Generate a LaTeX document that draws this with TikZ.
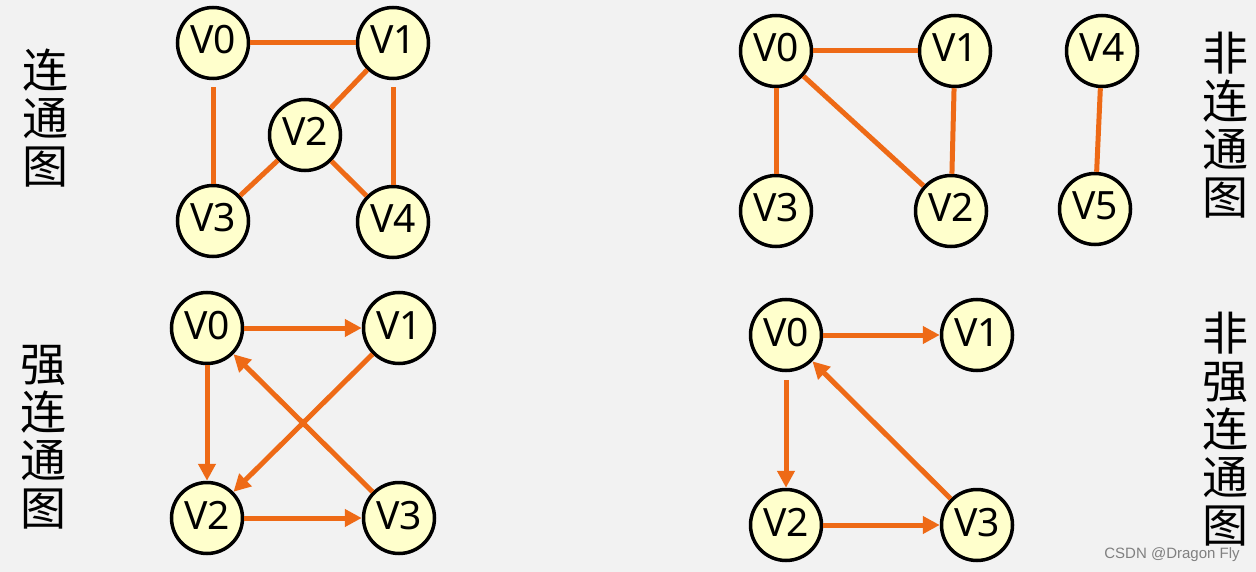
\documentclass[tikz,border=0pt]{standalone}
\usepackage{fontspec}
\setmainfont{Noto Sans}
\newfontfamily\cjk{Noto Sans CJK SC}
\newfontfamily\markfont{Liberation Sans}
\usetikzlibrary{arrows.meta, positioning}
\definecolor{edgeOrange}{RGB}{238,106,22}
\definecolor{vertexFill}{RGB}{255,255,204}
\definecolor{pageGray}{RGB}{242,242,242}

\begin{document}
\begin{tikzpicture}[
  x=1pt, y=-1pt,
  vertex/.style={
    circle, draw=black, line width=3.5pt, fill=vertexFill,
    minimum size=71pt, inner sep=0pt,
    font=\fontsize{39}{39}\selectfont, text height=28pt, text depth=6pt
  },
  edge/.style={draw=edgeOrange, line width=5pt},
  arc/.style={edge, -{Triangle[length=17pt, width=17pt]}},
  vlabel/.style={font=\cjk\fontsize{46}{48}\selectfont, align=center, inner sep=0pt},
  on grid
]
\fill[pageGray] (0,0) rectangle (1256,572);

% connected graph
\node[vertex] (c0) at (213,43) {V0};
\node[vertex, right=180pt of c0] (c1) {V1};
\node[vertex, below right=92pt and 92pt of c0] (c2) {V2};
\node[vertex, below=178pt of c0] (c3) {V3};
\node[vertex, below=179pt of c1] (c4) {V4};

\draw[edge] (c0) -- (c1);
\draw[edge, shorten <=7pt] (c0) -- (c3);
\draw[edge, shorten <=7pt] (c1) -- (c4);
\draw[edge] (c1) -- (c2);
\draw[edge] (c2) -- (c3);
\draw[edge] (c2) -- (c4);

% disconnected graph
\node[vertex] (d0) at (776,51) {V0};
\node[vertex, right=179pt of d0] (d1) {V1};
\node[vertex, below right=160pt and 175pt of d0] (d2) {V2};
\node[vertex, below=160pt of d0] (d3) {V3};
\node[vertex, right=326pt of d0] (d4) {V4};
\node[vertex, below left=158pt and 7pt of d4] (d5) {V5};

\draw[edge] (d0) -- (d1);
\draw[edge] (d0) -- (d3);
\draw[edge] (d0) -- (d2);
\draw[edge] (d1) -- (d2);
\draw[edge] (d4) -- (d5);

% strongly connected graph
\node[vertex] (s0) at (207,328) {V0};
\node[vertex, right=192pt of s0] (s1) {V1};
\node[vertex, below=190pt of s0] (s2) {V2};
\node[vertex, below right=190pt and 192pt of s0] (s3) {V3};

\draw[arc] (s0) -- (s1);
\draw[arc] (s0) -- (s2);
\draw[arc] (s1) -- (s2);
\draw[arc] (s3) -- (s0);
\draw[arc] (s2) -- (s3);

% not strongly connected graph
\node[vertex] (n0) at (786,335) {V0};
\node[vertex, right=191pt of n0] (n1) {V1};
\node[vertex, below=190pt of n0] (n2) {V2};
\node[vertex, below right=190pt and 191pt of n0] (n3) {V3};

\draw[arc] (n0) -- (n1);
\draw[arc, shorten <=8pt] (n0) -- (n2);
\draw[arc] (n3) -- (n0);
\draw[arc] (n2) -- (n3);

% vertical labels
\node[vlabel] (lconn) at (45,118) {连\\通\\图};
\node[vlabel] (lstrong) at (43,437) {强\\连\\通\\图};
\node[vlabel] (ldis) at (1225,125) {非\\连\\通\\图};
\node[vlabel] (lnstrong) at (1225,429) {非\\强\\连\\通\\图};

\node[font=\markfont\fontsize{15}{15}\selectfont, text=gray] (mark) at (1172,555) {CSDN @Dragon Fly};
\end{tikzpicture}
\end{document}
